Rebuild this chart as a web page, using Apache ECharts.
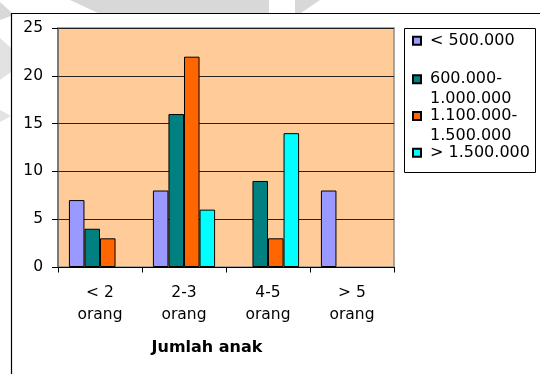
<!DOCTYPE html>
<html>
<head>
<meta charset="utf-8">
<script src="https://cdn.jsdelivr.net/npm/echarts@6/dist/echarts.min.js"></script>
<style>
  html, body { margin: 0; padding: 0; background: #fff; }
  #chart { width: 540px; height: 374px; }
</style>
</head>
<body>
<div id="chart"></div>
<script>
// Number of children per household, grouped by income bracket
const categories = ['< 2\norang', '2-3\norang', '4-5\norang', '> 5\norang'];
const seriesNames = ['< 500.000', '600.000-1.000.000', '1.100.000-1.500.000', '> 1.500.000'];
const incomeLow = [7, 8, 0, 8];
const incomeMidLow = [4, 16, 9, 0];
const incomeMidHigh = [3, 22, 3, 0];
const incomeHigh = [0, 6, 14, 0];
const seriesColors = ['#9999FF', '#008080', '#FF6600', '#00FFFF'];
const yTicks = { min: 0, max: 25, interval: 5 };
const xAxisTitle = 'Jumlah anak';

const FONT = 'DejaVu Sans';
const values = [incomeLow, incomeMidLow, incomeMidHigh, incomeHigh];

// Legend entries are stacked one by one so each swatch sits beside the first text line.
// Wrapped names get a leading blank line, which puts their first line on the swatch.
const legendIconY = [40.7, 79.3, 116, 152.7];
const LEGEND_LH = 19.5;
const legends = seriesNames.map(function (name, i) {
  const twoLine = name.indexOf('-') >= 0;
  return {
    orient: 'vertical',
    left: 412,
    top: twoLine ? legendIconY[i] - LEGEND_LH * 1.5 : legendIconY[i] - LEGEND_LH / 2,
    padding: 0,
    itemWidth: 8,
    itemHeight: 8,
    icon: 'rect',
    selectedMode: false,
    data: [name],
    formatter: function (n) {
      return n.indexOf('-') >= 0 ? '\n' + n.replace('-', '-\n') : n;
    },
    textStyle: {
      fontFamily: FONT,
      fontSize: 16,
      color: '#000',
      lineHeight: LEGEND_LH,
      padding: [0, 0, 0, 4]
    }
  };
});

const chart = echarts.init(document.getElementById('chart'), null, { renderer: 'canvas' });
chart.setOption({
  animation: false,
  backgroundColor: '#fff',
  textStyle: { fontFamily: FONT },
  graphic: [
    // faint background shapes around the frame
    { type: 'polygon', z: -20, silent: true,
      shape: { points: [[70, 0], [269, 0], [269, 13], [98, 13]] },
      style: { fill: '#d8d8d8' } },
    { type: 'polygon', z: -20, silent: true,
      shape: { points: [[295, 0], [320, 0], [301, 13], [295, 13]] },
      style: { fill: '#d8d8d8' } },
    { type: 'polygon', z: -20, silent: true,
      shape: { points: [[0, 2], [11, 12], [11, 16], [0, 20]] },
      style: { fill: '#d8d8d8' } },
    { type: 'polygon', z: -20, silent: true,
      shape: { points: [[0, 38], [11, 48], [11, 72], [0, 80]] },
      style: { fill: '#e2e2e2' } },
    { type: 'polygon', z: -20, silent: true,
      shape: { points: [[0, 110], [11, 116], [0, 122]] },
      style: { fill: '#e2e2e2' } },
    // outer chart frame
    { type: 'rect', z: -10, silent: true,
      shape: { x: 11.5, y: 13.5, width: 540, height: 380 },
      style: { fill: '#fff', stroke: '#000', lineWidth: 1.2 } },
    // legend frame
    { type: 'rect', z: -5, silent: true,
      shape: { x: 404.5, y: 28.5, width: 131, height: 144 },
      style: { fill: '#fff', stroke: '#000', lineWidth: 1 } }
  ],
  legend: legends,
  grid: {
    left: 58, right: 146, top: 28, bottom: 107,
    show: true,
    backgroundColor: '#FFCC99',
    borderColor: '#8c8c8c',
    borderWidth: 1.5
  },
  xAxis: {
    type: 'category',
    data: categories,
    axisLine: { lineStyle: { color: '#000', width: 1 } },
    axisTick: { show: true, length: 5.5, lineStyle: { color: '#000' } },
    axisLabel: {
      color: '#000', fontFamily: FONT, fontSize: 15.5,
      lineHeight: 21.7, margin: 15, interval: 0
    },
    name: xAxisTitle,
    nameLocation: 'middle',
    nameGap: 73,
    nameTextStyle: {
      color: '#000', fontFamily: FONT, fontSize: 16, fontWeight: 'bold',
      padding: [0, 38, 0, 0]
    }
  },
  yAxis: {
    type: 'value',
    min: yTicks.min, max: yTicks.max, interval: yTicks.interval,
    axisLine: { show: true, lineStyle: { color: '#6b6b6b', width: 1.5 } },
    axisTick: { show: true, length: 6, lineStyle: { color: '#000' } },
    axisLabel: { color: '#000', fontFamily: FONT, fontSize: 15.5, margin: 15 },
    splitLine: { show: true, lineStyle: { color: '#222', width: 1 } }
  },
  series: seriesNames.map(function (name, i) {
    return {
      name: name,
      type: 'bar',
      // empty cells have no bar at all
      data: values[i].map(function (v) { return v === 0 ? null : v; }),
      barGap: '0%',
      barCategoryGap: '26%',
      itemStyle: { color: seriesColors[i], borderColor: '#000', borderWidth: 1 }
    };
  })
});
</script>
</body>
</html>
